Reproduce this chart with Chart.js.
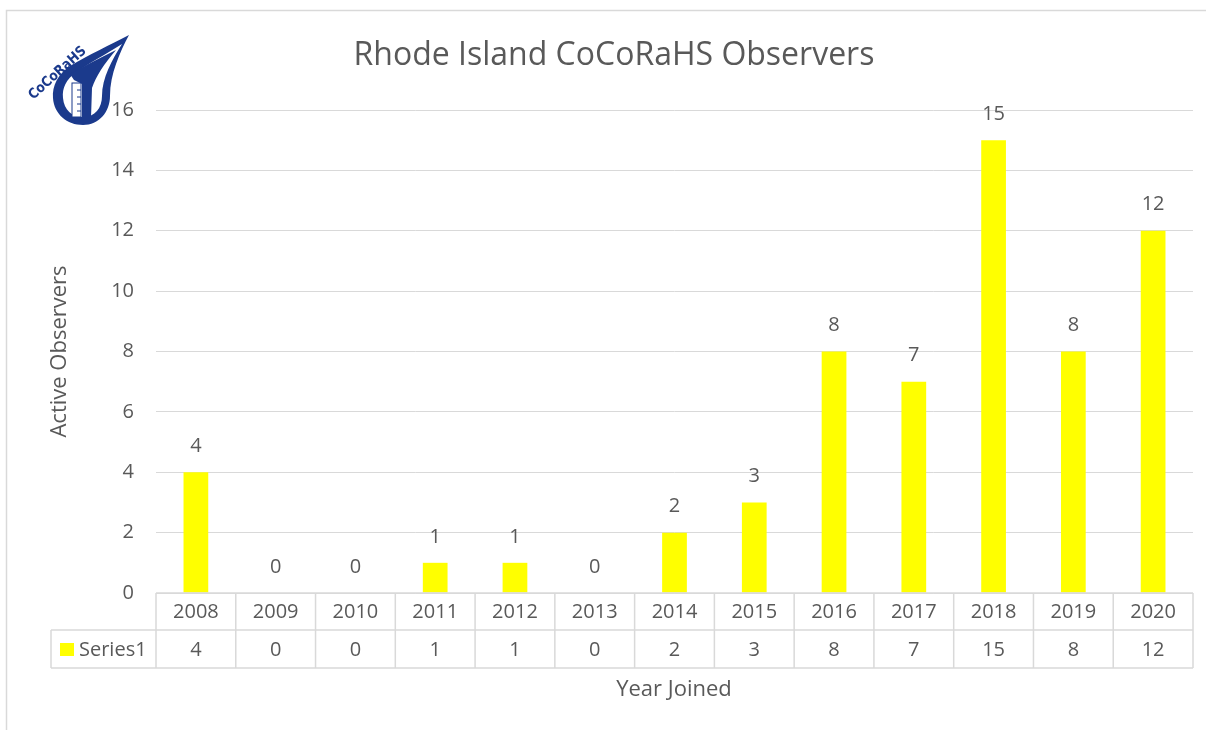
<!DOCTYPE html>
<html>
<head>
<meta charset="utf-8">
<script src="https://cdn.jsdelivr.net/npm/chart.js@4.4.0/dist/chart.umd.min.js"></script>
<style>
  html, body { margin: 0; padding: 0; background: #fff; }
  #wrap { position: relative; width: 1206px; height: 730px; }
  #logo { position: absolute; left: 0; top: 0; }
</style>
</head>
<body>
<div id="wrap">
  <canvas id="chart" width="1206" height="730"></canvas>
  <svg id="logo" width="150" height="140" viewBox="0 0 150 140">
    <path d="M129,35 C110,45 88,55 70,66 C58,74 52,86 53,98 C54,114 67,125 83,125 C99,125 110,112 110,96 C110,74 120,52 129,35 Z" fill="#1b3a8c"/>
    <path d="M122,44 C106,54 88,64 76,72 C66,80 62,88 63,98 C64,110 72,117 83,117 C95,117 102,108 102,96 C102,78 112,60 122,44 Z" fill="#fff"/>
    <path d="M70,74 C84,66 100,58 116,50 C104,64 96,76 92,88 L91,118 L82,118 L82,84 L74,80 Z" fill="#1b3a8c"/>
    <rect x="72" y="83" width="9" height="34" fill="#fff" stroke="#1b3a8c" stroke-width="1"/>
    <path d="M77,90 h4 M77,97 h4 M77,104 h4 M77,111 h4" stroke="#1b3a8c" stroke-width="1"/>
    <text transform="translate(60,76) rotate(-42)" text-anchor="middle" font-family="DejaVu Sans" font-weight="bold" font-size="14" textLength="72" lengthAdjust="spacingAndGlyphs" fill="#1b3a8c">CoCoRaHS</text>
  </svg>
</div>

<script>

const years = [
  "2008", "2009", "2010", "2011", "2012", "2013", "2014",
  "2015", "2016", "2017", "2018", "2019", "2020"
]

const observers = [4, 0, 0, 1, 1, 0, 2, 3, 8, 7, 15, 8, 12]

const seriesName = "Series1"

const yMax = 16
const yStep = 2


const FONT = "'Open Sans', sans-serif"
const TEXT = "#595959"
const LINE = "#d9d9d9"


/* ===== extras: frame, title, value labels, data table ===== */

const extrasPlugin = {

  id: "extras",

  beforeDraw(chart) {
    const ctx = chart.ctx
    ctx.save()
    ctx.fillStyle = "#fff"
    ctx.fillRect(0, 0, chart.width, chart.height)
    ctx.strokeStyle = LINE
    ctx.lineWidth = 1.5
    ctx.strokeRect(6.5, 10.5, 1300, 800)

    ctx.fillStyle = TEXT
    ctx.font = "32px " + FONT
    ctx.textAlign = "center"
    ctx.textBaseline = "middle"
    ctx.fillText("Rhode Island CoCoRaHS Observers", 614, 56)
    ctx.restore()
  },

  afterDatasetsDraw(chart) {
    const ctx = chart.ctx
    const meta = chart.getDatasetMeta(0)
    ctx.save()
    ctx.fillStyle = TEXT
    ctx.font = "20px " + FONT
    ctx.textAlign = "center"
    ctx.textBaseline = "middle"
    meta.data.forEach((bar, i) => {
      ctx.fillText(String(observers[i]), bar.x, bar.y - 26)
    })
    ctx.restore()
  },

  afterDraw(chart) {
    const ctx = chart.ctx
    const area = chart.chartArea
    const x = chart.scales.x
    const half = (x.getPixelForValue(1) - x.getPixelForValue(0)) / 2
    const top = area.bottom
    const mid = top + 37
    const bot = top + 75

    ctx.save()
    ctx.strokeStyle = LINE
    ctx.lineWidth = 1.5

    ctx.beginPath()
    ctx.moveTo(area.left, top)
    ctx.lineTo(area.right, top)
    ctx.moveTo(51, mid)
    ctx.lineTo(area.right, mid)
    ctx.moveTo(51, bot)
    ctx.lineTo(area.right, bot)
    ctx.moveTo(51, mid)
    ctx.lineTo(51, bot)
    years.forEach((y, i) => {
      const left = x.getPixelForValue(i) - half
      ctx.moveTo(left, top)
      ctx.lineTo(left, bot)
    })
    ctx.moveTo(area.right, top)
    ctx.lineTo(area.right, bot)
    ctx.stroke()

    ctx.fillStyle = TEXT
    ctx.font = "20px " + FONT
    ctx.textAlign = "center"
    ctx.textBaseline = "middle"
    years.forEach((y, i) => {
      const cx = x.getPixelForValue(i)
      ctx.fillText(y, cx, (top + mid) / 2 + 1)
      ctx.fillText(String(observers[i]), cx, (mid + bot) / 2 + 1)
    })

    ctx.fillStyle = "#ffff00"
    ctx.fillRect(60, mid + 13, 14, 13)
    ctx.fillStyle = TEXT
    ctx.textAlign = "left"
    ctx.fillText(seriesName, 79, (mid + bot) / 2 + 1)

    ctx.font = "22px " + FONT
    ctx.textAlign = "center"
    ctx.fillText("Year Joined", 674, 690)
    ctx.restore()
  }

}


const ctx = document.getElementById("chart").getContext("2d")

new Chart(ctx, {

  type: "bar",

  data: {
    labels: years,
    datasets: [
      {
        label: seriesName,
        data: observers,
        backgroundColor: "#ffff00",
        categoryPercentage: 1,
        barPercentage: 0.31
      }
    ]
  },

  options: {

    responsive: false,
    devicePixelRatio: 1,
    animation: false,

    layout: {
      padding: { left: 6, right: 13, top: 110, bottom: 0 }
    },

    plugins: {
      legend: { display: false },
      title: { display: false },
      tooltip: { enabled: false }
    },

    scales: {

      x: {
        ticks: { display: false },
        grid: { display: false },
        border: { display: false },
        afterFit(scale) { scale.height = 730 - 593 }
      },

      y: {
        min: 0,
        max: yMax,
        ticks: {
          stepSize: yStep,
          color: TEXT,
          font: { family: FONT, size: 20 },
          padding: 22
        },
        grid: { color: LINE, lineWidth: 1, drawTicks: false },
        border: { display: false },
        title: {
          display: true,
          text: "Active Observers",
          color: TEXT,
          font: { family: FONT, size: 22 },
          padding: { top: 41, bottom: 0 }
        },
        afterFit(scale) { scale.width = 150 }
      }

    }

  },

  plugins: [extrasPlugin]

})

</script>
</body>
</html>
